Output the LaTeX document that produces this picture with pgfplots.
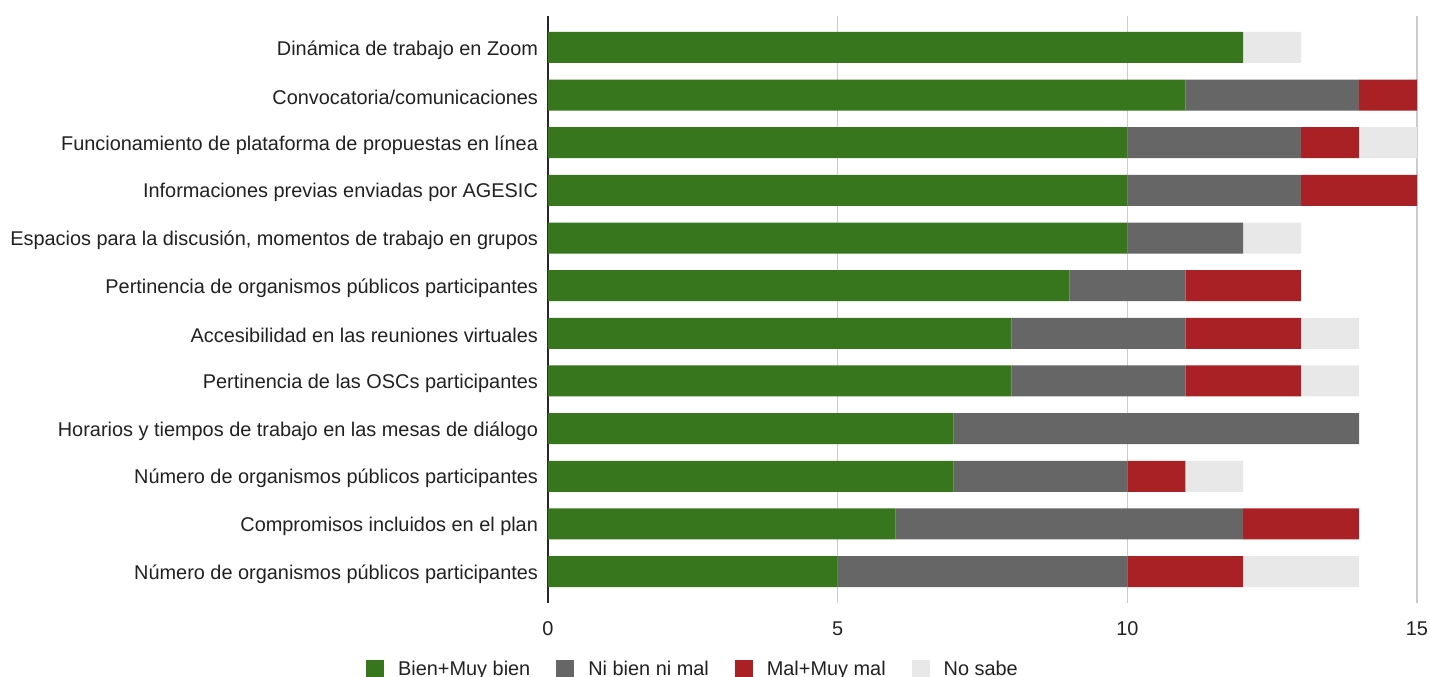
\documentclass[border=0pt]{standalone}
\usepackage{fontspec}
\setmainfont{Liberation Sans}
\usepackage{pgfplots}
\pgfplotsset{compat=1.18}
\usepackage{pgfplotstable}
\usetikzlibrary{calc}
\definecolor{cgreen}{HTML}{38761D}
\definecolor{cgray}{HTML}{666666}
\definecolor{cred}{HTML}{A92125}
\definecolor{clight}{HTML}{E8E8E8}
\pgfplotstableread{
row B N M S
0 12 0 0 1
1 11 3 1 0
2 10 3 1 1
3 10 3 2 0
4 10 2 0 1
5 9 2 2 0
6 8 3 2 1
7 8 3 2 1
8 7 7 0 0
9 7 3 1 1
10 6 6 2 0
11 5 5 2 2
}\data
\pgfplotsset{sqlegend/.style={legend image code/.code={\fill[##1] (0bp,-4.5bp) rectangle (9bp,4.5bp);}}}
\begin{document}
\begin{tikzpicture}[font=\fontsize{9.95bp}{12bp}\selectfont]
\begin{axis}[name=ax, scale only axis, width=434.5bp, height=293.5bp,
  xbar stacked, bar width=15.5bp,
  xmin=0, xmax=15, ymin=-0.66, ymax=11.66, y dir=reverse,
  ytick={0,...,11},
  yticklabels={Dinámica de trabajo en Zoom,
    Convocatoria/comunicaciones,
    Funcionamiento de plataforma de propuestas en línea,
    Informaciones previas enviadas por AGESIC,
    {Espacios para la discusión, momentos de trabajo en grupos},
    Pertinencia de organismos públicos participantes,
    Accesibilidad en las reuniones virtuales,
    Pertinencia de las OSCs participantes,
    Horarios y tiempos de trabajo en las mesas de diálogo,
    Número de organismos públicos participantes,
    Compromisos incluidos en el plan,
    Número de organismos públicos participantes},
  xtick={5,10,15},
  extra x ticks={0},
  extra x tick style={major grid style={draw=black!85, line width=0.8bp}},
  xmajorgrids, major grid style={draw=black!20, line width=0.8bp},
  axis line style={draw=none}, major tick length=0pt,
  /pgf/number format/assume math mode=true,
  tick label style={text=black!87},
  yticklabel style={xshift=-1.5bp, yshift=-1.2bp},
  xticklabel style={yshift=-6bp},
  legend columns=4,
  legend style={draw=none, fill=none, at={(0.168,-0.113)}, anchor=center,
    inner sep=0pt, text=black!87,
    /tikz/every even column/.append style={column sep=11bp},
    /tikz/every odd column/.append style={column sep=5bp},
    cells={anchor=west}},
]
\addplot[fill=cgreen, draw=none, sqlegend] table[x=B, y=row]{\data};
\addplot[fill=cgray, draw=none, sqlegend] table[x=N, y=row]{\data};
\addplot[fill=cred, draw=none, sqlegend] table[x=M, y=row]{\data};
\addplot[fill=clight, draw=none, sqlegend] table[x=S, y=row]{\data};
\legend{Bien+Muy bien, Ni bien ni mal, Mal+Muy mal, No sabe}
\end{axis}
\pgfresetboundingbox
\path[use as bounding box] ($(ax.south west)+(-274bp,-37bp)$) rectangle ++(715bp,338.5bp);
\end{tikzpicture}
\end{document}
